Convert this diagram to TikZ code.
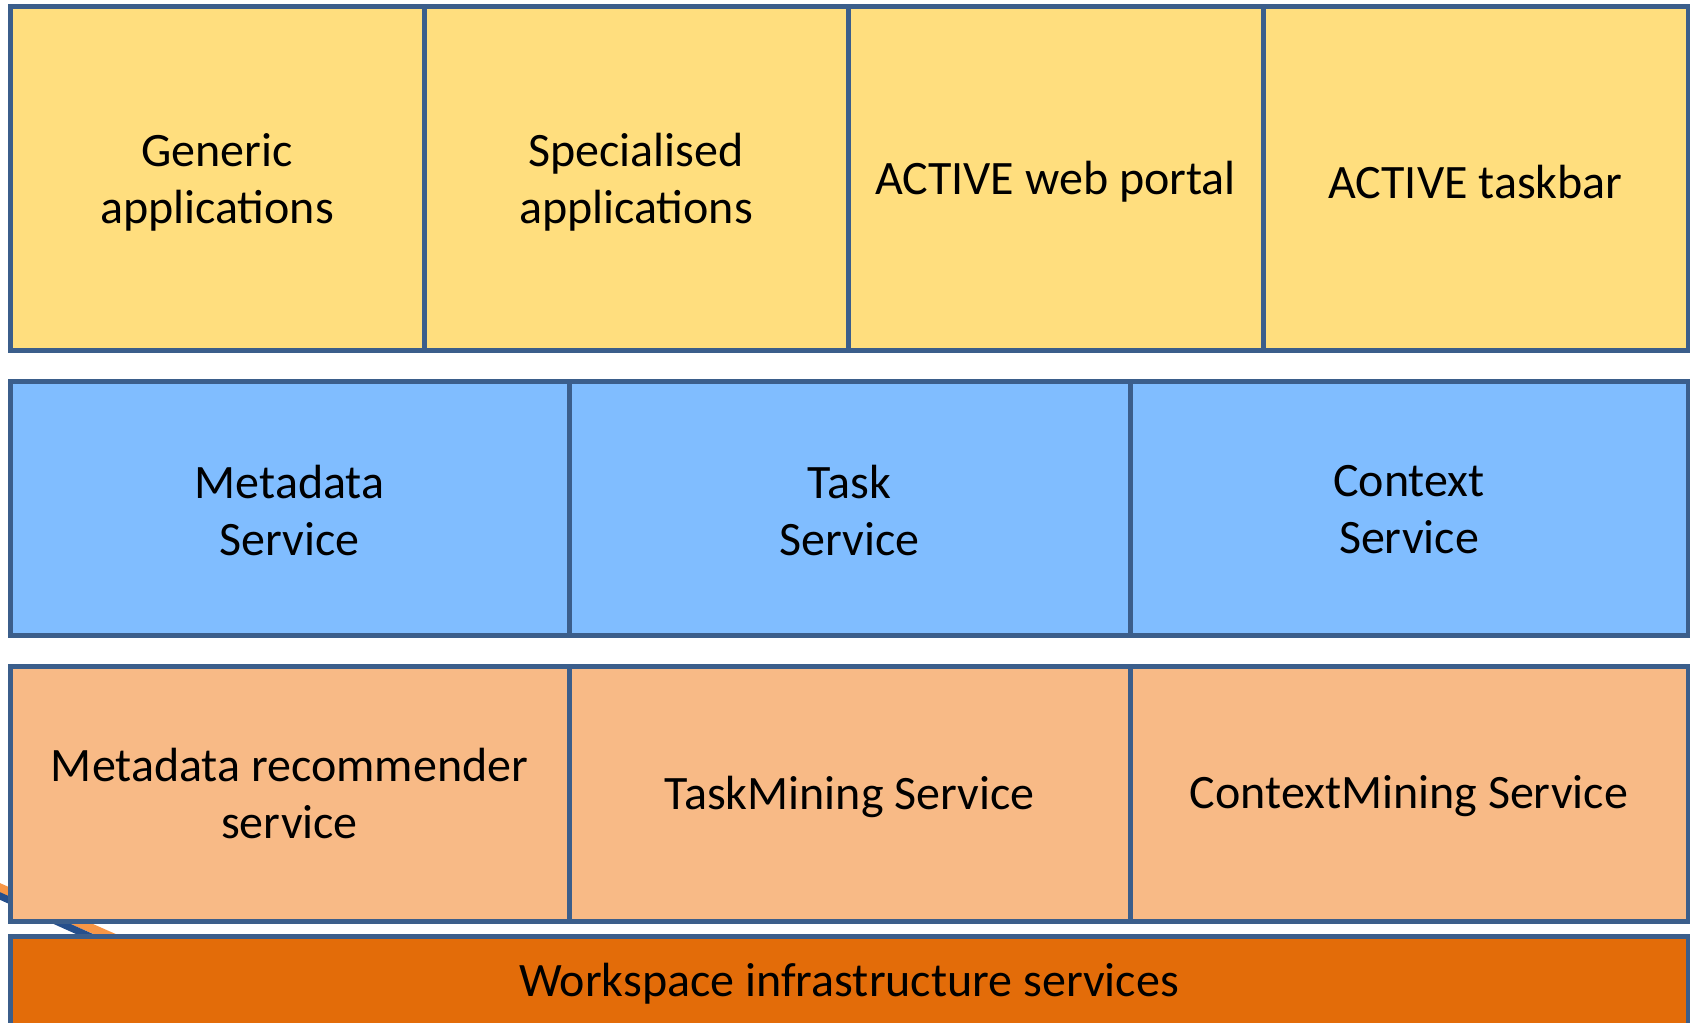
\documentclass[tikz,border=0pt]{standalone}
\usepackage{fontspec}
\setmainfont{Carlito}
\definecolor{bordc}{HTML}{3B5E8B}
\definecolor{yel}{HTML}{FFDE7E}
\definecolor{lblue}{HTML}{80BDFF}
\definecolor{lorange}{HTML}{F8BA86}
\definecolor{dorange}{HTML}{E36C09}
\definecolor{lineorange}{HTML}{F79646}
\definecolor{lineblue}{HTML}{254F8C}
\begin{document}
\begin{tikzpicture}[x=1pt,y=-1pt,
  box/.style={draw=bordc, line width=5pt, inner sep=0pt, outer sep=0pt},
  r1/.style={box, fill=yel, minimum height=344pt},
  r2/.style={box, fill=lblue, minimum height=254pt},
  r3/.style={box, fill=lorange, minimum height=255pt},
  lbl/.style={font=\fontsize{48}{57}\selectfont, text=black, inner sep=0pt, align=center}
]
\useasboundingbox (0,0) rectangle (1690,1023);
\clip (0,0) rectangle (1690,1023);
% decorative lines passing behind the lower boxes
\coordinate (oa) at (-40,870.4);
\coordinate (ob) at (200,976);
\coordinate (ba) at (-40,878);
\coordinate (bb) at (200,986);
\draw[lineorange, line width=9pt] (oa) -- (ob);
\draw[lineblue, line width=7pt] (ba) -- (bb);
% row 1
\node[r1, minimum width=414pt] (gen) at (217,178) {};
\node[r1, minimum width=424pt] (spec) at (636,178) {};
\node[r1, minimum width=415pt] (portal) at (1055.5,178) {};
\node[r1, minimum width=425pt] (taskbar) at (1475.5,178) {};
% row 2
\node[r2, minimum width=559pt] (meta) at (289.5,508) {};
\node[r2, minimum width=561pt] (task) at (849.5,508) {};
\node[r2, minimum width=558pt] (ctx) at (1409,508) {};
% row 3
\node[r3, minimum width=559pt] (metarec) at (289.5,793.5) {};
\node[r3, minimum width=561pt] (taskmin) at (849.5,793.5) {};
\node[r3, minimum width=558pt] (ctxmin) at (1409,793.5) {};
% row 4
\node[box, fill=dorange, minimum width=1678pt, minimum height=120pt, anchor=north] (ws) at (849,936) {};
% labels
\node[lbl] (genT) at ([yshift=-4pt]gen.center) {Generic\\applications};
\node[lbl] (specT) at ([yshift=-4pt]spec.center) {Specialised\\applications};
\node[lbl] (portalT) at ([yshift=-4pt]portal.center) {ACTIVE web portal};
\node[lbl] (taskbarT) at ([yshift=-4pt]taskbar.center) {ACTIVE taskbar};
\node[lbl] (metaT) at ([yshift=-2pt]meta.center) {Metadata\\Service};
\node[lbl] (taskT) at ([yshift=-2pt]task.center) {Task\\Service};
\node[lbl] (ctxT) at ([yshift=-2pt]ctx.center) {Context\\Service};
\node[lbl] (metarecT) at (metarec.center) {Metadata recommender\\service};
\node[lbl] (taskminT) at ([yshift=-3pt]taskmin.center) {TaskMining Service};
\node[lbl] (ctxminT) at ([yshift=-3pt]ctxmin.center) {ContextMining Service};
\node[lbl] (wsT) at (849,984) {Workspace infrastructure services};
\end{tikzpicture}
\end{document}
